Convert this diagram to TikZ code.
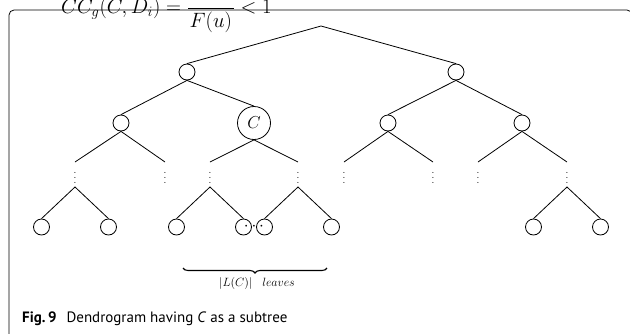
\documentclass[tikz,border=0pt]{standalone}
\usepackage{fontspec}
\newfontfamily\capfont{PT Sans}
\usetikzlibrary{decorations.pathreplacing}
\newcommand{\myvdots}{\vbox{\baselineskip5pt\lineskiplimit0pt\hbox{.}\hbox{.}\hbox{.}}}
\begin{document}
\begin{tikzpicture}[x=1pt,y=-1pt,
  edge/.style={line width=0.8pt},
  dot/.style={circle,draw,line width=0.8pt,minimum size=16pt,inner sep=0pt},
  bigdot/.style={circle,draw,line width=0.8pt,minimum size=33pt,inner sep=0pt,font=\fontsize{19}{19}\selectfont},
  vd/.style={inner sep=0pt,font=\fontsize{10}{10}\selectfont},
]
\useasboundingbox (0,0) rectangle (630,333);
\begin{scope}
\clip (0,0) rectangle (630,32);
\node[anchor=base west,inner sep=0pt,font=\fontsize{21}{21}\selectfont] (eq) at (61,13.5) {$\displaystyle CC_g(C,D_i)=\frac{\hphantom{F(u)\,}}{F(u)}<1$};
\end{scope}
\draw[line width=0.8pt,rounded corners=5pt] (9,345) -- (9,10) -- (632,10) -- (632,345);
% tree
\coordinate (r) at (321,26);
\node[dot] (n1) at (187,72) {};
\node[dot] (n2) at (456,72) {};
\draw[edge] (n1.north) -- (r) -- (n2.north);
\node[dot] (a) at (121,123) {};
\node[bigdot] (C) at (254,123) {$C$};
\node[dot] (b) at (388,123) {};
\node[dot] (c) at (522,123) {};
\draw[edge] (a.north) -- (n1.south) -- (C.north);
\draw[edge] (b.north) -- (n2.south) -- (c.north);
\foreach \p/\xa/\xb in {a/75/165, C/210/298, b/344/433, c/478/567}{
  \coordinate (\p1) at (\xa,162);
  \coordinate (\p2) at (\xb,162);
  \draw[edge] (\p1) -- (\p.south) -- (\p2);
  \node[vd] (\p v1) at (\xa,178) {\myvdots};
  \node[vd] (\p v2) at (\xb,178) {\myvdots};
}
\foreach \s/\x in {s1/75, s2/210, s3/298, s4/567}{
  \coordinate (\s) at (\x,187);
  \node[dot] (\s l) at (\x-33.5,227) {};
  \node[dot] (\s r) at (\x+33.5,227) {};
  \draw[edge] (\s l.north) -- (\s) -- (\s r.north);
}
\node[inner sep=0pt,font=\fontsize{18}{18}\selectfont] (cd) at (254,227) {$\cdots$};
\coordinate (br1) at (183,268);
\coordinate (br2) at (327,268);
\draw[decorate,decoration={brace,mirror,amplitude=5pt},line width=1.1pt] (br1) -- (br2);
\node[inner sep=0pt,font=\fontsize{12}{12}\selectfont] (lab) at (257,283) {$|L(C)|\;\;\; leaves$};
\node[anchor=base west,inner sep=0pt,font=\capfont\fontsize{15}{18}\selectfont] (cap) at (22,322) {\textbf{Fig.\,9}\hspace{6pt} Dendrogram having \textit{C} as a subtree};
\end{tikzpicture}
\end{document}
